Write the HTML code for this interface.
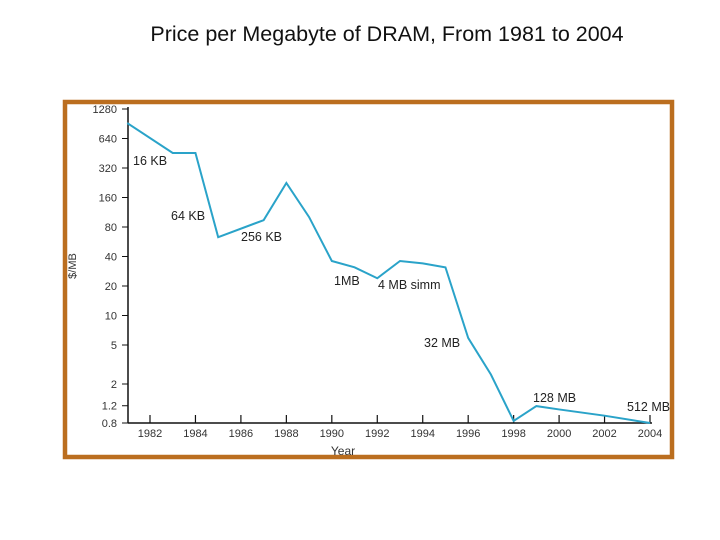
<!DOCTYPE html>
<html><head><meta charset="utf-8"><style>
body{margin:0;background:#fff;width:720px;height:540px;overflow:hidden;font-family:"Liberation Sans",sans-serif}
#title{position:absolute;left:107px;width:560px;top:22px;text-align:center;font-size:21.5px;color:#111;white-space:nowrap}
svg{position:absolute;left:0;top:0}
</style></head><body>
<div id="title">Price per Megabyte of DRAM, From 1981 to 2004</div>
<svg id="chart" width="720" height="540"></svg>
<script>
const years=[1981,1983,1984,1985,1987,1988,1989,1990,1991,1992,1993,1994,1995,1996,1997,1998,1999,2000,2002,2004];
const prices=[920,455,455,63,94,225,101,36,31,24,36,34,31,5.9,2.5,0.84,1.19,1.1,0.95,0.8];
const yTicks=[1280,640,320,160,80,40,20,10,5,2,1.2,0.8];
const yTickLabels=["1280","640","320","160","80","40","20","10","5","2","1.2","0.8"];
const xTicks=[1982,1984,1986,1988,1990,1992,1994,1996,1998,2000,2002,2004];
const labelText=["16 KB","64 KB","256 KB","1MB","4 MB simm","32 MB","128 MB","512 MB"];
const labelAnchor=[[133,165],[171,220],[241,241],[334,285],[378,289],[424,347],[533,402],[627,411]];
const NS="http://www.w3.org/2000/svg";
const svg=document.getElementById('chart');
function X(y){return 150+(y-1982)*500/22;}
function Y(v){return 109+29.5*Math.log2(1280/v);}
function el(t,a,txt){const e=document.createElementNS(NS,t);for(const k in a)e.setAttribute(k,a[k]);if(txt!=null)e.textContent=txt;svg.appendChild(e);return e;}
let e=el('rect',{x:65,y:102,width:607,height:355,fill:'none',stroke:'#bb6e1f','stroke-width':4.5});

e=el('line',{x1:128,y1:107,x2:128,y2:423,stroke:'#111','stroke-width':1.5});

e=el('line',{x1:128,y1:423,x2:652,y2:423,stroke:'#111','stroke-width':1.5});

yTicks.forEach((v,i)=>{
 const l=el('line',{x1:122,y1:Y(v),x2:128,y2:Y(v),stroke:'#111','stroke-width':1});
 
 const t=el('text',{x:117,y:Y(v)+4,'text-anchor':'end','font-size':11,fill:'#333'},yTickLabels[i]);
 
});
xTicks.forEach(v=>{
 const l=el('line',{x1:X(v),y1:415,x2:X(v),y2:423,stroke:'#111','stroke-width':1.2});
 
 const t=el('text',{x:X(v),y:437,'text-anchor':'middle','font-size':11,fill:'#333'},String(v));
 
});
e=el('text',{x:343,y:455,'text-anchor':'middle','font-size':12,fill:'#333'},'Year');

e=el('text',{x:0,y:0,'text-anchor':'middle','font-size':11,fill:'#333',transform:'translate(76,266) rotate(-90)'},'$/MB');

e=el('polyline',{points:years.map((y,i)=>X(y)+','+Y(prices[i])).join(' '),fill:'none',stroke:'#2aa3c9','stroke-width':2});

labelText.forEach((s,i)=>{
 const t=el('text',{x:labelAnchor[i][0],y:labelAnchor[i][1],'font-size':12.5,fill:'#222'},s);
 
});
</script>
</body></html>
